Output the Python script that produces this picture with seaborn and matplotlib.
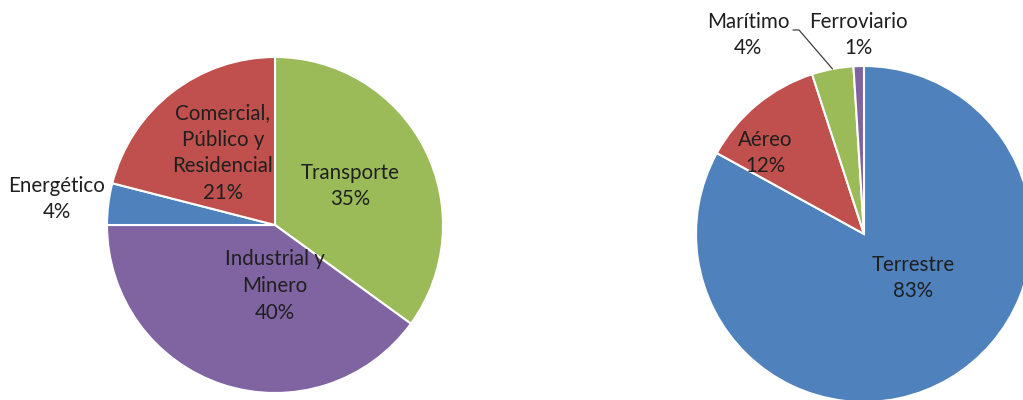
import matplotlib
matplotlib.use("Agg")
import matplotlib.pyplot as plt
import numpy as np
import seaborn as sns

# Energy consumption by sector (%)
sectors = ["Transporte", "Industrial y\nMinero", "Energético", "Comercial,\nPúblico y\nResidencial"]
sector_share = [35, 40, 4, 21]

# Transport consumption by mode (%)
modes = ["Terrestre", "Aéreo", "Marítimo", "Ferroviario"]
mode_share = [83, 12, 4, 1]

BLUE, RED, GREEN, PURPLE = "#4F81BD", "#C0504D", "#9BBB59", "#8064A2"
sector_colors = [GREEN, PURPLE, BLUE, RED]
mode_colors = [BLUE, RED, GREEN, PURPLE]

sns.set_theme(style="white")
plt.rcParams["font.family"] = ["Lato", "DejaVu Sans"]

W, H = 1023, 400
fig = plt.figure(figsize=(W / 100, H / 100), dpi=100)
ax = fig.add_axes([0, 0, 1, 1])

R = 168
left_c = (275, H - 225)
right_c = (864, H - 234)

wedge_kw = dict(edgecolor="white", linewidth=1.5)
ax.pie(sector_share, colors=sector_colors, startangle=90, counterclock=False,
       center=left_c, radius=R, wedgeprops=wedge_kw)
wedges_r, _ = ax.pie(mode_share, colors=mode_colors, startangle=90, counterclock=False,
                     center=right_c, radius=R, wedgeprops=wedge_kw)

ax.set_xlim(0, W)
ax.set_ylim(0, H)
ax.set_aspect("equal")
ax.axis("off")

txt_kw = dict(ha="center", va="center", fontsize=14.8, color="#1f1f1f", linespacing=1.42)

# label offsets from each pie's centre (pixels)
left_off = [(75, 39), (0, -61), (-218, 26), (-52, 72)]
for name, v, (dx, dy) in zip(sectors, sector_share, left_off):
    ax.text(left_c[0] + dx, left_c[1] + dy, f"{name}\n{v}%", **txt_kw)

right_off = [(49, -44), (-99, 81), (-116, 199), (-6, 199)]
for name, v, (dx, dy) in zip(modes, mode_share, right_off):
    ax.text(right_c[0] + dx, right_c[1] + dy, f"{name}\n{v}%", **txt_kw)

# leader line from the Marítimo label to its wedge
w = wedges_r[2]
mid = np.deg2rad((w.theta1 + w.theta2) / 2)
px = right_c[0] + R * np.cos(mid)
py = right_c[1] + R * np.sin(mid)
lx, ly = right_c[0] - 71, right_c[1] + 204
ax.plot([lx, lx + 6, px], [ly, ly, py], color="#404040", linewidth=0.9)

fig.savefig("out.png", dpi=100, facecolor="white")
